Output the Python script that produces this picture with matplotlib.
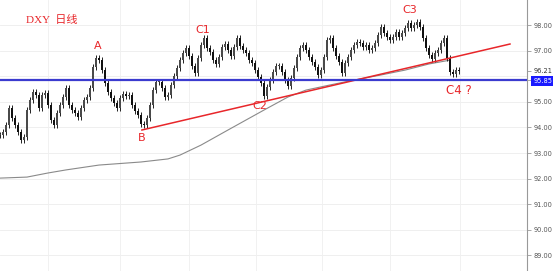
import numpy as np
import matplotlib.pyplot as plt

plt.rcParams['font.family'] = ['DejaVu Sans', 'Noto Sans CJK SC']

# daily closes of DXY (one bar every 3 px)
closes = [93.70, 93.82, 94.09, 94.76, 94.37, 94.09, 93.82, 93.51, 93.63, 94.68,
          95.07, 95.38, 95.27, 94.76, 95.27, 95.34, 94.88, 94.29, 94.09, 94.56,
          94.88, 95.19, 95.54, 94.88, 94.68, 94.56, 94.41, 94.76, 95.07, 95.19,
          95.54, 96.36, 96.71, 96.63, 96.24, 95.73, 95.38, 95.15, 94.95, 94.76,
          95.15, 95.30, 95.23, 95.27, 94.88, 94.64, 94.48, 94.13, 94.09, 94.37,
          94.88, 95.46, 95.77, 95.77, 95.54, 95.19, 95.27, 95.66, 96.01, 96.32,
          96.63, 96.91, 97.10, 96.79, 96.40, 96.13, 96.71, 97.22, 97.49, 97.10,
          96.95, 96.63, 96.48, 96.75, 97.14, 97.26, 97.02, 96.79, 97.14, 97.49,
          97.18, 97.02, 96.91, 96.63, 96.52, 96.24, 95.97, 95.73, 95.23, 95.58,
          95.85, 96.16, 96.40, 96.40, 96.16, 95.85, 95.62, 95.93, 96.32, 96.75,
          97.10, 97.22, 97.02, 96.75, 96.55, 96.36, 96.05, 96.24, 96.75, 97.41,
          97.49, 97.10, 96.79, 96.55, 96.13, 96.52, 96.75, 97.02, 97.22, 97.34,
          97.30, 97.14, 97.22, 97.02, 97.10, 97.30, 97.61, 97.92, 97.69, 97.53,
          97.41, 97.53, 97.73, 97.53, 97.69, 97.88, 98.08, 97.88, 98.00, 98.12,
          97.92, 97.49, 97.10, 96.83, 96.67, 96.91, 97.02, 97.30, 97.49, 96.71,
          96.16, 96.09, 96.24, 96.21]

# long moving average (gray), bar index and value
ma_idx = [0, 9, 16, 22, 33, 47, 56, 60, 67, 76, 88, 96, 102, 110, 118, 127, 135, 143, 150]
ma_val = [92.02, 92.06, 92.22, 92.34, 92.53, 92.65, 92.77, 92.92, 93.31, 93.90,
          94.68, 95.19, 95.46, 95.66, 95.85, 96.05, 96.24, 96.48, 96.63]

# trend line from B
trend_idx = [47.3, 170]
trend_val = [93.90, 97.26]

support = 95.85
last_price = 96.21
grid_levels = [89, 90, 91, 92, 93, 94, 95, 96, 97, 98]
tick_levels = [89, 90, 91, 92, 93, 94, 95, support, last_price, 97, 98]

red = '#e8262a'

fig = plt.figure(figsize=(5.53, 2.71), dpi=100)
ax = fig.add_axes([0, 0, 527 / 553, 1])

x = np.arange(len(closes))
opens = [closes[0]] + closes[:-1]
wick = 0.12
for i in x:
    o, c = opens[i], closes[i]
    lo, hi = min(o, c), max(o, c)
    ax.vlines(i, lo - wick, hi + wick, color='#222222', lw=0.7, zorder=3)
    col = '#111111' if c < o else '#4a4a4a'
    ax.bar(i, max(hi - lo, 0.03), bottom=lo, width=0.85, color=col, lw=0, zorder=3)

ax.plot(ma_idx, ma_val, color='#8a8a8a', lw=0.8, zorder=2)
ax.plot(trend_idx, trend_val, color=red, lw=1.1, zorder=4)
ax.axhline(support, color='#3b3bcf', lw=1.6, zorder=5)

for v in grid_levels:
    ax.axhline(v, color='#ececec', lw=0.6, zorder=0)
for px in [48, 120, 189, 256, 322, 390, 460]:
    ax.axvline(px / 3, color='#efefef', lw=0.6, zorder=0)

ax.set_xlim(0, 527 / 3)
ax.set_ylim(88.39, 98.98)

ax.set_xticks([])
ax.yaxis.tick_right()
ax.set_yticks(tick_levels)
ax.set_yticklabels([f'{v:.2f}' for v in tick_levels])
ax.tick_params(axis='y', length=3, width=0.6, colors='#999999', labelsize=4.8,
               labelcolor='#555555', pad=1.5)
for lbl, v in zip(ax.get_yticklabels(), tick_levels):
    if v == support:
        lbl.set_color('white')
        lbl.set_bbox(dict(boxstyle='square,pad=0.3', fc='#1a1aff', ec='none'))
    elif v == last_price:
        lbl.set_color('#333333')
for s in ['top', 'left', 'bottom']:
    ax.spines[s].set_visible(False)
ax.spines['right'].set_color('#999999')
ax.spines['right'].set_linewidth(0.8)

# labels
ax.text(8.5, 98.2, 'DXY  日线', color=red, fontsize=8, va='center', ha='left',
        family=['Liberation Serif', 'Noto Sans CJK SC'])
lab = dict(color=red, fontsize=8, ha='center', va='center')
ax.text(32.7, 97.17, 'A', **lab)
ax.text(67.7, 97.80, 'C1', **lab)
ax.text(47.3, 93.58, 'B', **lab)
ax.text(86.7, 94.85, 'C2', **lab)
ax.text(136.7, 98.58, 'C3', **lab)
ax.text(148.5, 95.45, 'C4 ?', color=red, fontsize=8.5, ha='left', va='center')

fig.savefig('out.png', dpi=100)
